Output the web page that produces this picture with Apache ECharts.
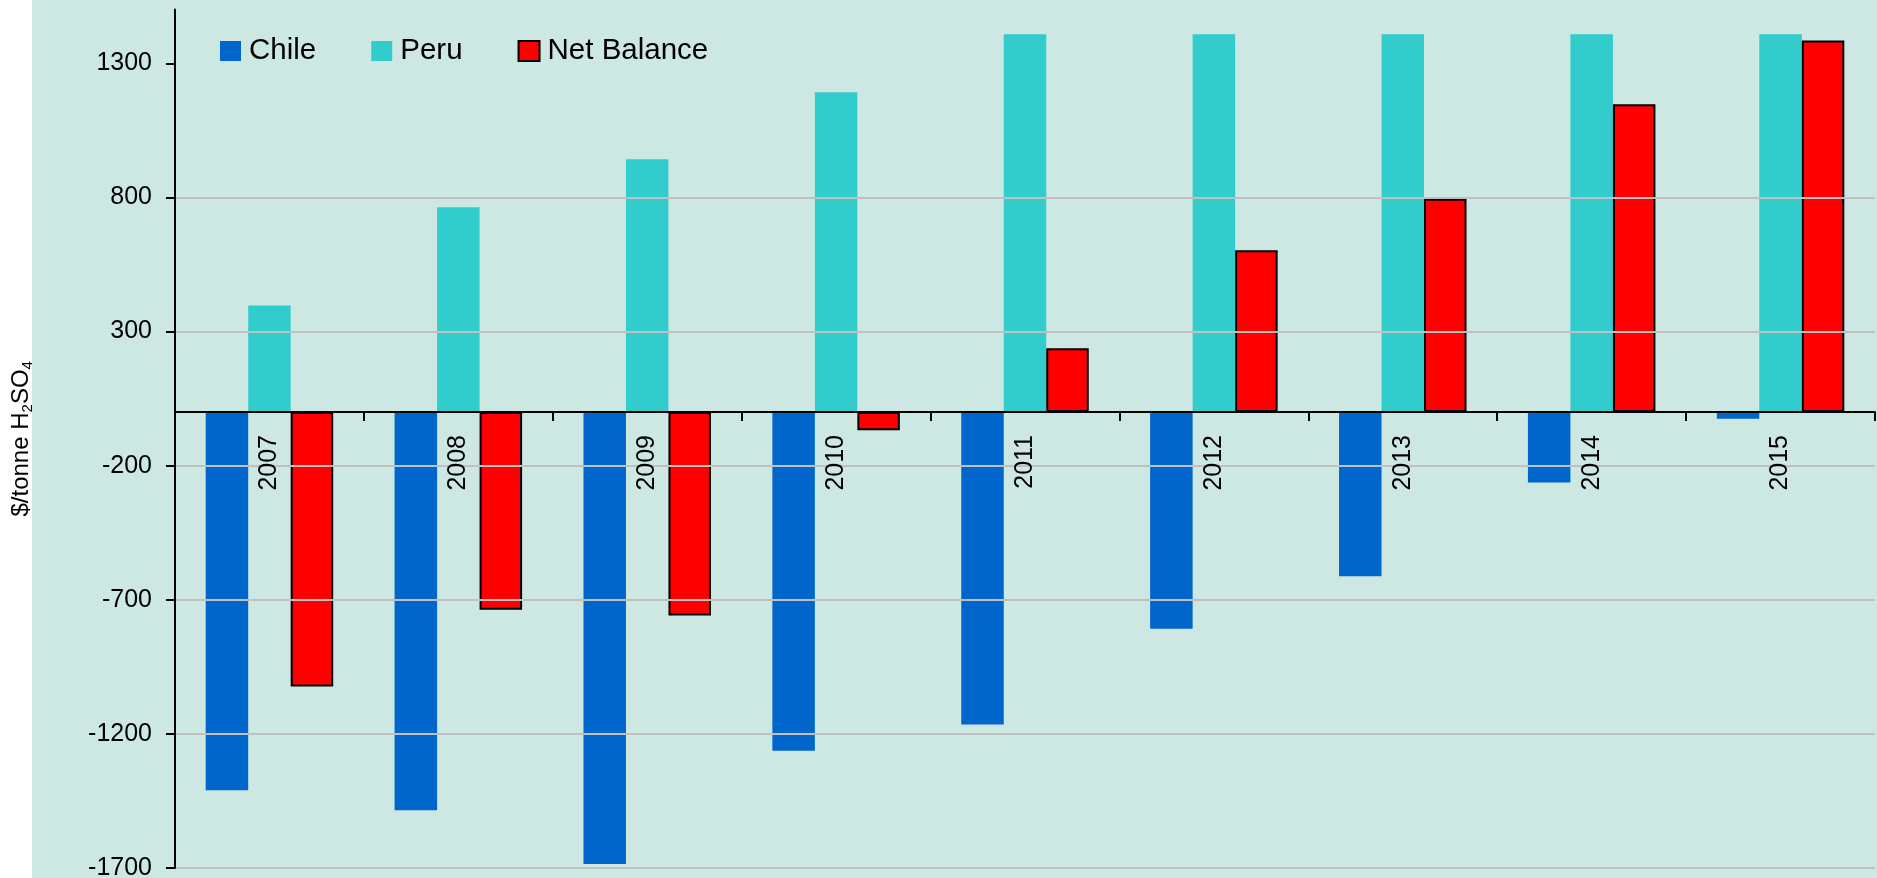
<!DOCTYPE html>
<html>
<head>
<meta charset="utf-8">
<script src="https://cdn.jsdelivr.net/npm/echarts@6/dist/echarts.min.js"></script>
<style>
  html, body { margin: 0; padding: 0; background: #fff; }
  #chart {
    width: 1877px; height: 878px;
    background: linear-gradient(to right, #ffffff 32px, #cde8e2 32px);
  }
</style>
</head>
<body>
<div id="chart"></div>
<script>
var years = ["2007", "2008", "2009", "2010", "2011", "2012", "2013", "2014", "2015"];
var chile = [-1410, -1485, -1685, -1263, -1165, -808, -612, -263, -25];
var peru = [397, 763, 942, 1192, 1408, 1408, 1408, 1408, 1408];
var netBalance = [-1023, -737, -759, -68, 238, 603, 795, 1147, 1385];
var yTicks = [-1700, -1200, -700, -200, 300, 800, 1300];

var font = "'Liberation Sans', Arial, sans-serif";
var yMin = -1700, yMax = 1500;
var gridTop = 9.6, gridBottom = 10, chartH = 878;
// put the category axis on the zero line
var plotH = chartH - gridTop - gridBottom;
var zeroOffset = -(plotH * (0 - yMin) / (yMax - yMin));

var chart = echarts.init(document.getElementById("chart"));

chart.setOption({
    backgroundColor: "transparent",
    animation: false,
    textStyle: {fontFamily: font, color: "#000"},
    grid: {left: 175, right: 2, top: gridTop, bottom: gridBottom, containLabel: false, outerBoundsMode: "none"},
    legend: {
        left: 220,
        top: 36,
        padding: 0,
        itemWidth: 21,
        itemHeight: 20,
        itemGap: 55,
        icon: "rect",
        textStyle: {fontSize: 29.5, fontFamily: font, color: "#000", padding: [0, 0, 0, 3]},
        data: ["Chile", "Peru", "Net Balance"]
    },
    xAxis: {
        type: "category",
        data: years,
        z: 10,
        offset: zeroOffset,
        axisLine: {onZero: false, lineStyle: {color: "#000", width: 2}},
        axisTick: {show: true, length: 9, lineStyle: {color: "#000", width: 2}},
        axisLabel: {rotate: 90, fontSize: 25, margin: 23, color: "#000", fontFamily: font},
        splitLine: {show: false}
    },
    yAxis: {
        type: "value",
        min: yMin,
        max: yMax,
        interval: 500,
        z: 10,
        name: "$/tonne H{sub|2}SO{sub|4}",
        nameLocation: "middle",
        nameRotate: 90,
        nameGap: 140,
        nameTextStyle: {
            fontSize: 24, color: "#000", fontFamily: font,
            rich: {sub: {fontSize: 15, padding: [12, 0, 0, 0], fontFamily: font, color: "#000"}}
        },
        axisLine: {show: true, lineStyle: {color: "#000", width: 2}},
        axisTick: {show: true, length: 9, lineStyle: {color: "#000", width: 2}, customValues: yTicks},
        axisLabel: {
            fontSize: 25, margin: 23, color: "#000", fontFamily: font, customValues: yTicks,
            formatter: function (v) { return String(v); }
        },
        splitLine: {show: true, showMaxLine: false, lineStyle: {color: "#c0c0c0", width: 2}}
    },
    series: [
        {name: "Chile", type: "bar", data: chile, barGap: "0%", barCategoryGap: "32.5%",
            itemStyle: {color: "#0066cc"}},
        {name: "Peru", type: "bar", data: peru,
            itemStyle: {color: "#33cccc"}},
        {name: "Net Balance", type: "bar", data: netBalance,
            itemStyle: {color: "#ff0000", borderColor: "#000", borderWidth: 2}}
    ]
});
</script>
</body>
</html>
